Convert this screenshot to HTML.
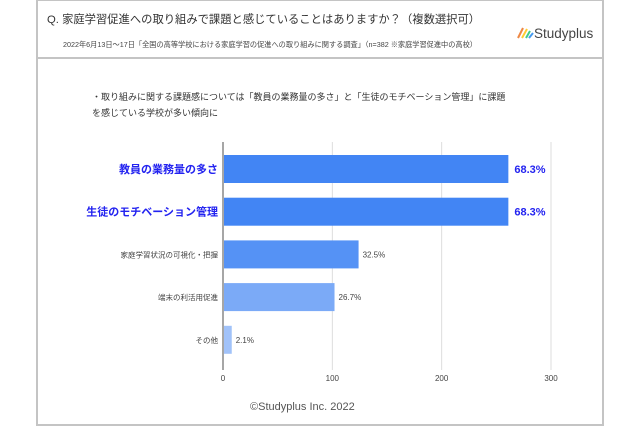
<!DOCTYPE html>
<html><head><meta charset="utf-8"><style>
body{margin:0;width:640px;height:426px;background:#fff;font-family:"Liberation Sans","Noto Sans CJK JP",sans-serif;overflow:hidden;position:relative}
.frame{position:absolute;left:36px;top:0;width:564px;height:423px;border:2px solid #c4c4c4;border-top:1px solid #c4c4c4;box-sizing:content-box}
.sep{position:absolute;left:36px;top:57px;width:566px;height:2px;background:#c4c4c4}
.t{position:absolute;white-space:nowrap}
</style></head><body>
<div class="frame"></div>
<div class="sep"></div>
<div class="t" style="left:47px;top:11px;font-size:11.3px;color:#333">Q. 家庭学習促進への取り組みで課題と感じていることはありますか？（複数選択可）</div>
<div class="t" style="left:63px;top:40px;font-size:7.2px;color:#444">2022年6月13日～17日「全国の高等学校における家庭学習の促進への取り組みに関する調査」（n=382 ※家庭学習促進中の高校）</div>
<div class="t" style="left:516px;top:25px;font-size:13.5px;color:#444"><svg width="18" height="15" style="vertical-align:-2px"><line x1="2" y1="13" x2="7" y2="3" stroke="#e84" stroke-width="2"/><line x1="6" y1="13" x2="11" y2="4" stroke="#fc3" stroke-width="2"/><line x1="10" y1="13" x2="14" y2="6" stroke="#4c8" stroke-width="2"/><line x1="13" y1="13" x2="17" y2="8" stroke="#49e" stroke-width="2"/></svg>Studyplus</div>
<div class="t" style="left:92px;top:89px;font-size:9px;color:#333;line-height:16px">・取り組みに関する課題感については「教員の業務量の多さ」と「生徒のモチベーション管理」に課題<br>を感じている学校が多い傾向に</div>
<svg id="c" width="640" height="426" style="position:absolute;left:0;top:0"></svg>
<div class="t" style="left:250px;top:401px;font-size:11px;color:#555">©Studyplus Inc. 2022</div>
<script>
const categories=["教員の業務量の多さ","生徒のモチベーション管理","家庭学習状況の可視化・把握","端末の利活用促進","その他"];
const counts=[261,261,124,102,8];
const pctLabels=["68.3%","68.3%","32.5%","26.7%","2.1%"];
const ticks=[0,100,200,300];
const colors=["#4285f4","#4285f4","#5592f5","#7baaf7","#a1c2f9"];
const svg=document.getElementById('c');const NS="http://www.w3.org/2000/svg";
const x0=223,xs=(551-223)/300;const X=v=>x0+v*xs;
const top0=155,step=42.7,bh=28;
function mk(t,a){const e=document.createElementNS(NS,t);for(const k in a)e.setAttribute(k,a[k]);svg.appendChild(e);return e;}
ticks.forEach(t=>{const g=mk('line',{x1:X(t),x2:X(t),y1:142,y2:370,stroke:t===0?'#888':'#ddd','stroke-width':t===0?1.5:1});


const l=mk('text',{x:X(t),y:381,'text-anchor':'middle','font-size':8,fill:'#444'});l.textContent=t;

});
categories.forEach((c,i)=>{const y=top0+i*step;const big=i<2;
const r=mk('rect',{x:X(0)+1,y:y,width:X(counts[i])-X(0)-1,height:bh,fill:colors[i]});


const lb=mk('text',{x:218,y:y+bh/2+(big?4:3),'text-anchor':'end','font-size':big?11:7.5,'font-weight':big?'bold':'normal',fill:big?'#2323f0':'#444'});lb.textContent=c;


const v=mk('text',{x:X(counts[i])+(big?6:4),y:y+bh/2+(big?4:3),'font-size':big?11:8,'font-weight':big?'bold':'normal',fill:big?'#2323f0':'#444'});v.textContent=pctLabels[i];

});
</script>
</body></html>
